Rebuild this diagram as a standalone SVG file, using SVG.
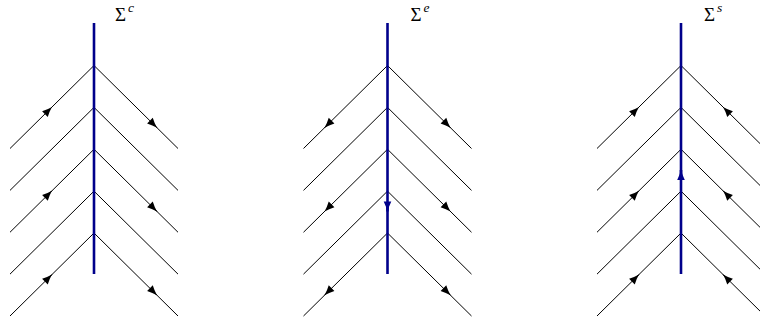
<svg xmlns="http://www.w3.org/2000/svg" width="760" height="323" viewBox="0 0 760 323">
<style>
.br{fill:none;stroke:#000;stroke-width:1}
.ax{fill:none;stroke:#00008b;stroke-width:2.6}
.ar{fill:none;stroke:#000;stroke-width:1;marker-end:url(#ah)}
.ab{fill:none;stroke:#00008b;stroke-width:2.6;marker-end:url(#ahb)}
.sig{font-family:"Liberation Serif",serif;font-size:19px;fill:#000}
.sup{font-family:"Liberation Serif",serif;font-style:italic;font-size:13.5px}
</style>
<defs>
<marker id="ah" markerUnits="userSpaceOnUse" viewBox="-11 -5 11 10" markerWidth="11" markerHeight="10" refX="0" refY="0" orient="auto">
<path d="M0,0 Q-5,-1.3 -10,-4 L-10,4 Q-5,1.3 0,0 z" fill="#000"/>
</marker>
<marker id="ahb" markerUnits="userSpaceOnUse" viewBox="-11 -5 11 10" markerWidth="11" markerHeight="10" refX="0" refY="0" orient="auto">
<path d="M0,0 Q-5,-1.4 -10,-3.8 L-10,3.8 Q-5,1.4 0,0 z" fill="#00008b"/>
</marker>
</defs>
<g id="panel-c">
<g id="branches-c">
<polyline class="br" points="10,148.5 94,65.5 178,148.5"/>
<polyline class="br" points="10,190.375 94,107.375 178,190.375"/>
<polyline class="br" points="10,232.25 94,149.25 178,232.25"/>
<polyline class="br" points="10,274.125 94,191.125 178,274.125"/>
<polyline class="br" points="10,316 94,233 178,316"/>
</g>
<line id="axis-c" class="ax" x1="94" y1="23" x2="94" y2="274"/>
<g id="arrows-c">
<path class="ar" d="M49,110 L52,107"/>
<path class="ar" d="M154,124.75 L157,127.75"/>
<path class="ar" d="M49,193.75 L52,190.75"/>
<path class="ar" d="M154,208.5 L157,211.5"/>
<path class="ar" d="M49,277.5 L52,274.5"/>
<path class="ar" d="M154,292.25 L157,295.25"/>
</g>
<text id="label-c" class="sig" x="115" y="20.5">Σ<tspan class="sup" dx="2" dy="-8.5">c</tspan></text>
</g>
<g id="panel-e">
<g id="branches-e">
<polyline class="br" points="303.5,148.5 387.5,65.5 471.5,148.5"/>
<polyline class="br" points="303.5,190.375 387.5,107.375 471.5,190.375"/>
<polyline class="br" points="303.5,232.25 387.5,149.25 471.5,232.25"/>
<polyline class="br" points="303.5,274.125 387.5,191.125 471.5,274.125"/>
<polyline class="br" points="303.5,316 387.5,233 471.5,316"/>
</g>
<line id="axis-e" class="ax" x1="387.5" y1="23" x2="387.5" y2="274"/>
<g id="arrows-e">
<path class="ar" d="M327.5,124.75 L324.5,127.75"/>
<path class="ar" d="M447.5,124.75 L450.5,127.75"/>
<path class="ar" d="M327.5,208.5 L324.5,211.5"/>
<path class="ar" d="M447.5,208.5 L450.5,211.5"/>
<path class="ar" d="M327.5,292.25 L324.5,295.25"/>
<path class="ar" d="M447.5,292.25 L450.5,295.25"/>
<path class="ab" d="M387.5,205 L387.5,211.5"/>
</g>
<text id="label-e" class="sig" x="410.5" y="20.5">Σ<tspan class="sup" dx="2" dy="-8.5">e</tspan></text>
</g>
<g id="panel-s">
<g id="branches-s">
<polyline class="br" points="597,148.5 681,65.5 765,148.5"/>
<polyline class="br" points="597,190.375 681,107.375 765,190.375"/>
<polyline class="br" points="597,232.25 681,149.25 765,232.25"/>
<polyline class="br" points="597,274.125 681,191.125 765,274.125"/>
<polyline class="br" points="597,316 681,233 765,316"/>
</g>
<line id="axis-s" class="ax" x1="681" y1="23" x2="681" y2="274"/>
<g id="arrows-s">
<path class="ar" d="M636,110 L639,107"/>
<path class="ar" d="M726,110 L723,107"/>
<path class="ar" d="M636,193.75 L639,190.75"/>
<path class="ar" d="M726,193.75 L723,190.75"/>
<path class="ar" d="M636,277.5 L639,274.5"/>
<path class="ar" d="M726,277.5 L723,274.5"/>
<path class="ab" d="M681,177 L681,170"/>
</g>
<text id="label-s" class="sig" x="704" y="20.5">Σ<tspan class="sup" dx="2" dy="-8.5">s</tspan></text>
</g>
</svg>
